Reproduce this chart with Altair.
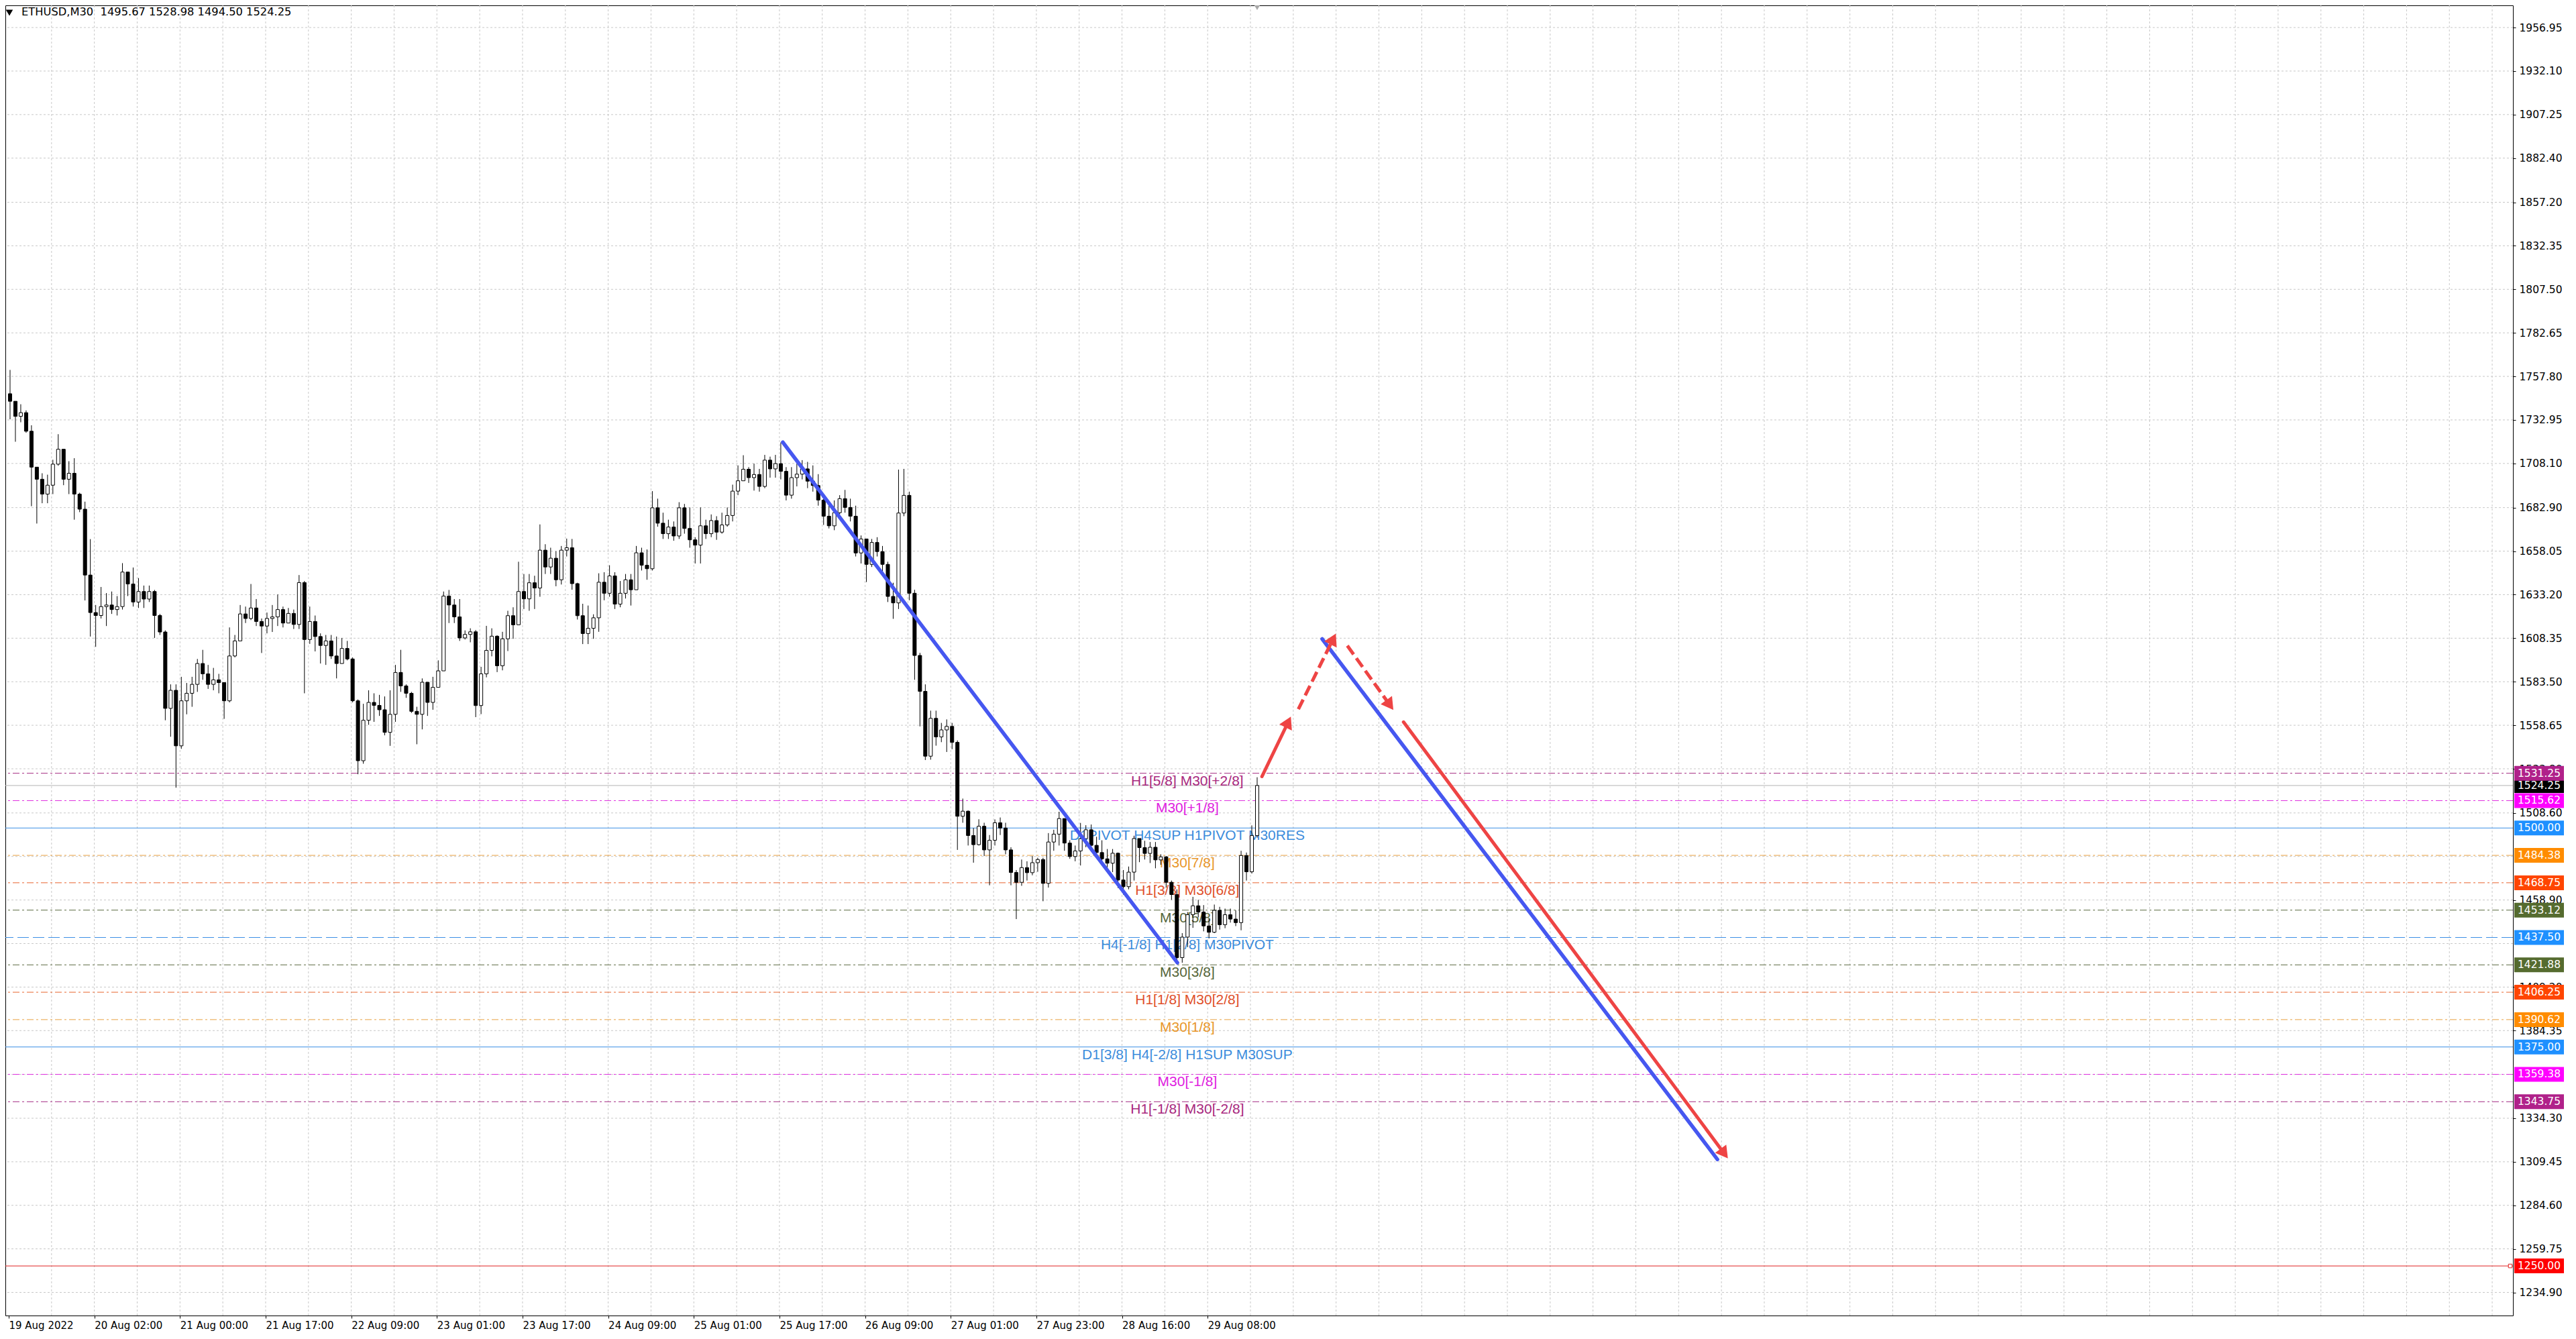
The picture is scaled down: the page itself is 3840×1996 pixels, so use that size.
import math
import altair as alt
import pandas as pd

# ---------------- data ----------------
title_text = "ETHUSD,M30\u00a0 1495.67 1528.98 1494.50 1524.25"

first_open = 1747.9
closes = [
    1743.6, 1735.0, 1737.1, 1726.5, 1706.0, 1699.1, 1690.6, 1695.7, 1707.7, 1716.2,
    1699.1, 1702.5, 1690.6, 1682.0, 1644.4, 1623.0, 1621.3, 1626.4, 1627.3, 1624.7,
    1626.4, 1646.1, 1639.3, 1629.0, 1635.0, 1630.7, 1635.0, 1621.3, 1611.9, 1568.3,
    1578.6, 1546.9, 1572.6, 1576.9, 1582.0, 1593.9, 1588.0, 1582.0, 1584.6, 1583.0,
    1572.6, 1598.2, 1606.8, 1622.2, 1619.6, 1625.6, 1617.9, 1615.3, 1619.6, 1620.5,
    1624.7, 1617.0, 1622.5, 1616.2, 1640.1, 1607.6, 1617.9, 1609.3, 1604.2, 1606.8,
    1598.2, 1593.9, 1602.5, 1596.5, 1572.6, 1538.4, 1561.5, 1571.7, 1570.0, 1567.5,
    1554.6, 1564.9, 1588.8, 1581.1, 1576.9, 1566.6, 1564.9, 1583.2, 1571.7, 1580.3,
    1589.7, 1632.4, 1627.3, 1620.5, 1608.5, 1610.5, 1612.0, 1569.9, 1588.0, 1601.4,
    1609.5, 1592.6, 1608.0, 1621.2, 1616.0, 1635.0, 1630.8, 1640.0, 1637.0, 1658.6,
    1649.0, 1654.0, 1641.7, 1658.6, 1660.0, 1639.5, 1621.2, 1611.0, 1614.0, 1620.0,
    1640.3, 1634.0, 1643.9, 1627.8, 1634.0, 1641.7, 1636.0, 1657.1, 1650.0, 1648.0,
    1682.8, 1674.0, 1668.0, 1671.8, 1666.7, 1682.8, 1671.0, 1664.5, 1661.5, 1672.5,
    1668.0, 1675.5, 1668.9, 1673.0, 1678.4, 1692.3, 1698.2, 1704.8, 1700.0, 1701.8,
    1695.0, 1710.0, 1705.0, 1708.0, 1703.6, 1690.0, 1700.0, 1702.0, 1705.0, 1698.0,
    1695.5, 1687.2, 1678.0, 1672.5, 1680.0, 1688.0, 1683.0, 1678.0, 1657.0, 1665.0,
    1650.5, 1663.0, 1657.8, 1650.5, 1632.2, 1628.5, 1679.8, 1689.9, 1634.0, 1598.5,
    1578.0, 1541.0, 1562.6, 1552.0, 1556.0, 1558.0, 1548.9, 1506.7, 1509.6, 1495.7,
    1490.5, 1501.0, 1487.5, 1493.0, 1503.0, 1500.0, 1487.5, 1474.6, 1469.0, 1477.4,
    1474.5, 1480.2, 1482.0, 1468.4, 1492.0, 1496.5, 1505.4, 1491.4, 1483.7, 1486.9,
    1493.9, 1499.0, 1490.1, 1486.0, 1482.4, 1479.9, 1485.6, 1470.3, 1466.5, 1474.8,
    1494.0, 1488.8, 1485.5, 1489.0, 1481.8, 1483.5, 1469.0, 1462.0, 1426.0, 1437.7,
    1450.5, 1455.6, 1452.0, 1444.1, 1440.5, 1453.0, 1444.8, 1450.5, 1448.0, 1446.0,
    1484.3, 1475.0, 1495.67, 1524.25,
]
highs = [
    1761.5, 1743.6, 1741.9, 1738.4, 1729.9, 1706.0, 1702.5, 1701.7, 1710.2, 1724.8,
    1716.2, 1709.4, 1711.1, 1691.4, 1686.3, 1664.9, 1627.3, 1637.6, 1634.1, 1635.0,
    1632.4, 1651.2, 1646.1, 1648.7, 1642.7, 1638.4, 1638.4, 1635.9, 1622.2, 1612.8,
    1582.0, 1582.0, 1586.3, 1582.8, 1586.3, 1596.5, 1601.7, 1593.1, 1591.4, 1588.0,
    1581.1, 1614.5, 1610.2, 1627.3, 1626.4, 1639.3, 1630.7, 1619.6, 1623.0, 1627.3,
    1633.3, 1626.4, 1625.6, 1624.7, 1644.4, 1641.0, 1626.4, 1621.3, 1611.1, 1610.2,
    1610.2, 1609.3, 1608.5, 1606.8, 1597.4, 1573.4, 1570.9, 1578.6, 1576.9, 1576.0,
    1575.1, 1578.6, 1593.1, 1601.7, 1582.0, 1577.7, 1569.2, 1585.4, 1582.8, 1586.3,
    1595.7, 1635.0, 1635.9, 1630.7, 1630.7, 1612.8, 1614.0, 1613.0, 1592.0, 1615.4,
    1614.0, 1610.0, 1612.0, 1624.0, 1626.0, 1652.0, 1645.0, 1645.0, 1644.0, 1673.3,
    1662.0, 1660.0, 1658.0, 1661.0, 1665.2, 1665.0, 1640.0, 1628.0, 1627.0, 1622.0,
    1645.4, 1646.0, 1650.0, 1646.0, 1641.0, 1645.0, 1645.0, 1661.0, 1660.0, 1659.0,
    1692.3, 1688.0, 1680.0, 1676.0, 1675.0, 1686.0, 1685.0, 1683.0, 1666.0, 1683.0,
    1676.0, 1679.0, 1678.0, 1680.0, 1683.0, 1696.0, 1707.0, 1712.8, 1706.0, 1708.0,
    1705.0, 1713.0, 1712.0, 1713.0, 1720.1, 1706.0, 1706.0, 1708.0, 1710.0, 1709.0,
    1707.0, 1702.0, 1690.0, 1684.0, 1687.0, 1690.0, 1693.0, 1688.0, 1684.0, 1667.0,
    1665.0, 1665.0, 1666.0, 1661.0, 1652.0, 1640.0, 1704.6, 1705.0, 1692.0, 1636.0,
    1600.0, 1582.0, 1567.0, 1567.0, 1560.0, 1562.0, 1560.0, 1550.0, 1516.8, 1510.0,
    1500.0, 1505.0, 1503.0, 1496.0, 1504.9, 1506.0, 1503.0, 1489.0, 1476.0, 1482.0,
    1481.0, 1484.0, 1483.0, 1483.0, 1497.1, 1499.0, 1509.3, 1505.0, 1493.0, 1490.0,
    1502.9, 1501.6, 1502.0, 1495.0, 1493.0, 1488.0, 1488.0, 1486.0, 1476.0, 1478.0,
    1495.6, 1494.0, 1492.7, 1492.0, 1492.0, 1485.0, 1484.0, 1470.0, 1465.0, 1440.0,
    1452.0, 1460.7, 1459.0, 1456.0, 1448.0, 1456.3, 1455.0, 1454.0, 1454.0, 1453.0,
    1487.0, 1486.0, 1501.5, 1528.98,
]
lows = [
    1733.3, 1720.5, 1731.6, 1725.6, 1683.7, 1673.8, 1685.4, 1685.4, 1690.6, 1706.8,
    1695.7, 1690.6, 1676.0, 1680.3, 1629.9, 1609.3, 1603.4, 1619.6, 1615.3, 1622.2,
    1621.3, 1624.7, 1632.4, 1626.4, 1625.6, 1625.6, 1629.0, 1608.5, 1610.2, 1561.5,
    1552.1, 1523.0, 1545.2, 1564.9, 1569.2, 1577.7, 1584.6, 1579.4, 1578.6, 1576.9,
    1562.3, 1571.7, 1597.4, 1606.8, 1617.0, 1618.7, 1615.3, 1599.9, 1611.1, 1611.9,
    1615.3, 1614.5, 1619.6, 1613.6, 1613.6, 1576.9, 1605.1, 1600.8, 1593.9, 1593.1,
    1596.5, 1585.4, 1600.8, 1595.7, 1571.7, 1530.7, 1536.7, 1558.9, 1560.6, 1564.0,
    1552.9, 1546.9, 1560.6, 1577.7, 1574.3, 1565.7, 1547.8, 1556.3, 1564.0, 1567.5,
    1580.3, 1589.7, 1617.0, 1617.0, 1606.8, 1607.6, 1606.0, 1563.3, 1565.0, 1586.0,
    1598.0, 1589.0, 1590.0, 1601.0, 1608.0, 1617.0, 1625.0, 1624.0, 1625.0, 1632.0,
    1645.0, 1645.0, 1638.0, 1639.0, 1655.0, 1636.0, 1619.0, 1605.0, 1605.0, 1608.0,
    1612.0, 1630.0, 1632.0, 1625.0, 1626.0, 1631.0, 1627.0, 1636.0, 1647.0, 1641.7,
    1647.0, 1672.0, 1665.0, 1665.0, 1664.0, 1665.0, 1668.0, 1660.0, 1651.0, 1651.0,
    1665.0, 1666.0, 1664.5, 1668.0, 1672.0, 1675.0, 1690.0, 1699.0, 1697.0, 1692.6,
    1692.0, 1694.0, 1700.0, 1700.0, 1699.0, 1687.0, 1688.0, 1695.0, 1699.0, 1694.0,
    1692.0, 1684.0, 1673.0, 1671.0, 1670.0, 1679.0, 1680.0, 1675.0, 1655.0, 1651.0,
    1640.4, 1649.0, 1655.0, 1645.0, 1629.0, 1619.4, 1625.0, 1678.0, 1630.0, 1584.6,
    1558.0, 1538.8, 1539.0, 1547.0, 1549.0, 1543.4, 1545.0, 1487.5, 1503.0, 1490.0,
    1480.2, 1490.0, 1484.0, 1467.3, 1490.0, 1496.0, 1485.0, 1467.3, 1448.0, 1467.0,
    1470.0, 1473.0, 1475.0, 1458.2, 1466.0, 1487.0, 1490.0, 1487.0, 1482.4, 1481.0,
    1478.6, 1489.0, 1488.0, 1484.3, 1480.0, 1475.4, 1474.8, 1465.8, 1462.0, 1465.0,
    1470.0, 1480.5, 1482.0, 1480.0, 1477.0, 1479.0, 1466.0, 1459.0, 1423.1, 1423.1,
    1432.0, 1443.0, 1449.0, 1441.0, 1437.0, 1440.0, 1442.0, 1442.8, 1446.0, 1444.0,
    1441.6, 1470.0, 1474.0, 1494.50,
]

x_labels = ["19 Aug 2022", "20 Aug 02:00", "21 Aug 00:00", "21 Aug 17:00", "22 Aug 09:00",
            "23 Aug 01:00", "23 Aug 17:00", "24 Aug 09:00", "25 Aug 01:00", "25 Aug 17:00",
            "26 Aug 09:00", "27 Aug 01:00", "27 Aug 23:00", "28 Aug 16:00", "29 Aug 08:00"]
y_ticks = [1956.95, 1932.10, 1907.25, 1882.40, 1857.20, 1832.35, 1807.50, 1782.65, 1757.80,
           1732.95, 1708.10, 1682.90, 1658.05, 1633.20, 1608.35, 1583.50, 1558.65, 1533.80,
           1508.60, 1458.90, 1409.20, 1384.35, 1334.30, 1309.45, 1284.60, 1259.75, 1234.90]
hidden_grid = [1483.75, 1434.05, 1359.30]

level_prices = [1531.25, 1515.62, 1500.00, 1484.38, 1468.75, 1453.12, 1437.50,
                1421.88, 1406.25, 1390.62, 1375.00, 1359.38, 1343.75]
level_labels = ["H1[5/8] M30[+2/8]", "M30[+1/8]", "D1PIVOT H4SUP H1PIVOT M30RES", "M30[7/8]",
                "H1[3/8] M30[6/8]", "M30[5/8]", "H4[-1/8] H1[2/8] M30PIVOT", "M30[3/8]",
                "H1[1/8] M30[2/8]", "M30[1/8]", "D1[3/8] H4[-2/8] H1SUP M30SUP", "M30[-1/8]",
                "H1[-1/8] M30[-2/8]"]
level_kinds = ["violet", "magenta", "blue_solid", "orange", "orangered", "olive", "blue_dash",
               "olive", "orangered", "orange", "blue_solid", "magenta", "violet"]
bid_price = 1524.25
red_level = 1250.00

# trend lines (bar index, price)
blue_start_i = [289.25, 490.8]
blue_start_p = [1720.2, 1607.9]
blue_end_i = [436.7, 638.5]
blue_end_p = [1423.1, 1310.8]

arrow_start_i = [468.3, 481.9, 500.2, 521.2]
arrow_start_p = [1529.4, 1567.8, 1604.1, 1560.5]
arrow_tip_i = [479.1, 495.9, 517.4, 642.4]
arrow_tip_p = [1563.6, 1611.0, 1567.4, 1311.4]
arrow_dashed = [False, True, True, False]

# ---------------- layout / style ----------------
W, H = 3738, 1953
X_DOM = [0, 934.5]
Y_DOM = [1221.7, 1969.6]
PX_X = W / (X_DOM[1] - X_DOM[0])
PX_Y = H / (Y_DOM[1] - Y_DOM[0])
TEXT_I = 440.4

styles = {
    "violet": dict(line="#A42A82", text="#A8287E", box="#B0218A", dash=[10, 4, 3, 4]),
    "magenta": dict(line="#E030E0", text="#E020E0", box="#FF00FF", dash=[10, 4, 3, 4]),
    "blue_solid": dict(line="#3A8EE6", text="#3C8CDC", box="#1E90FF", dash=None),
    "blue_dash": dict(line="#3A8EE6", text="#3C8CDC", box="#1E90FF", dash=[17, 6]),
    "orange": dict(line="#E8A040", text="#E8962A", box="#FF8C00", dash=[10, 4, 3, 4]),
    "orangered": dict(line="#E8642E", text="#E0502A", box="#FF4500", dash=[10, 4, 3, 4]),
    "olive": dict(line="#5A6A40", text="#56663A", box="#556B2F", dash=[10, 4, 3, 4]),
}

xs = alt.Scale(domain=X_DOM, nice=False, zero=False)
ys = alt.Scale(domain=Y_DOM, nice=False, zero=False)
label_expr = "[" + ",".join("'%s'" % s for s in x_labels) + "][round(datum.value / 32)]"
xaxis = alt.Axis(values=[32 * n for n in range(len(x_labels))], labelExpr=label_expr,
                 orient="bottom", labelAlign="left", labelBaseline="top",
                 labelFont="DejaVu Sans", labelFontSize=15, labelColor="black",
                 labelPadding=3, tickSize=4, tickColor="black", domain=False, grid=False,
                 title=None, labelOverlap=False, labelFlush=False, labelBound=False)
yaxis = alt.Axis(values=y_ticks, format=".2f", orient="right", labelFont="DejaVu Sans",
                 labelFontSize=15.5, labelColor="black", labelPadding=5, tickSize=4,
                 tickColor="black", domain=False, grid=False, title=None,
                 labelOverlap=False, labelFlush=False, labelBound=False)


def X(f):
    return alt.X(f, type="quantitative", scale=xs, axis=xaxis)


def Y(f):
    return alt.Y(f, type="quantitative", scale=ys, axis=yaxis)


layers = []

# grid
gh = pd.DataFrame({"p": y_ticks + hidden_grid})
layers.append(alt.Chart(gh).mark_rule(color="#c8c8c8", strokeDash=[3, 3], strokeWidth=1)
              .encode(y=Y("p")))
gv = pd.DataFrame({"i": list(range(16, 935, 16))})
layers.append(alt.Chart(gv).mark_rule(color="#c8c8c8", strokeDash=[3, 3], strokeWidth=1)
              .encode(x=X("i")))

# level lines
for kind, st in styles.items():
    ps = [p for p, k in zip(level_prices, level_kinds) if k == kind]
    if not ps:
        continue
    kw = dict(color=st["line"], strokeWidth=1)
    if st["dash"]:
        kw["strokeDash"] = st["dash"]
    layers.append(alt.Chart(pd.DataFrame({"p": ps})).mark_rule(**kw).encode(y=Y("p")))

layers.append(alt.Chart(pd.DataFrame({"p": [bid_price]}))
              .mark_rule(color="#b4b4b4", strokeWidth=1).encode(y=Y("p")))
layers.append(alt.Chart(pd.DataFrame({"p": [red_level]}))
              .mark_rule(color="#e02020", strokeWidth=1).encode(y=Y("p")))

# level texts
tdf = pd.DataFrame({"p": level_prices, "label": level_labels,
                    "tc": [styles[k]["text"] for k in level_kinds],
                    "ti": [TEXT_I] * len(level_prices)})
layers.append(alt.Chart(tdf).mark_text(font="Liberation Sans", fontSize=21, dy=12,
                                       align="center", baseline="middle")
              .encode(x=X("ti"), y=Y("p"), text="label:N", color=alt.Color("tc:N", scale=None)))

# candles
opens = [first_open] + closes[:-1]
rows = []
for k, (o, h, l, c) in enumerate(zip(opens, highs, lows, closes)):
    rows.append(dict(i=2 * k + 0.5, o=o, c=c, h=max(h, o, c), l=min(l, o, c)))
cdf = pd.DataFrame(rows)
layers.append(alt.Chart(cdf).mark_rule(color="black", strokeWidth=1)
              .encode(x=X("i"), y=Y("l"), y2=alt.Y2("h")))
layers.append(alt.Chart(cdf).mark_bar(width=5, stroke="black", strokeWidth=1)
              .encode(x=X("i"), y=Y("o"), y2=alt.Y2("c"),
                      fill=alt.condition("datum.c >= datum.o", alt.value("white"), alt.value("black"))))

# blue trend lines
bdf = pd.DataFrame({"i0": blue_start_i, "p0": blue_start_p, "i1": blue_end_i, "p1": blue_end_p})
layers.append(alt.Chart(bdf).mark_rule(color="#4657F0", strokeWidth=5.5, strokeCap="round")
              .encode(x=X("i0"), y=Y("p0"), x2=alt.X2("i1"), y2=alt.Y2("p1")))

# red arrows
HEAD_LEN = 18.0
shaft_rows, head_rows = [], []
for i0, p0, i1, p1, dashed in zip(arrow_start_i, arrow_start_p, arrow_tip_i, arrow_tip_p, arrow_dashed):
    dxp = (i1 - i0) * PX_X
    dyp = -(p1 - p0) * PX_Y
    ln = math.hypot(dxp, dyp)
    ux, uy = dxp / ln, dyp / ln
    ang = (math.degrees(math.atan2(ux, -uy)) + 360) % 360
    end_i = i1 - (HEAD_LEN * 0.7 * ux) / PX_X
    end_p = p1 + (HEAD_LEN * 0.7 * uy) / PX_Y
    hc_i = i1 - (HEAD_LEN * 0.5 * ux) / PX_X
    hc_p = p1 + (HEAD_LEN * 0.5 * uy) / PX_Y
    shaft_rows.append(dict(i0=i0, p0=p0, i1=end_i, p1=end_p, dashed=dashed))
    head_rows.append(dict(i=hc_i, p=hc_p, ang=ang))
sdf = pd.DataFrame(shaft_rows)
layers.append(alt.Chart(sdf[~sdf.dashed]).mark_rule(color="#EE4444", strokeWidth=5, strokeCap="round")
              .encode(x=X("i0"), y=Y("p0"), x2=alt.X2("i1"), y2=alt.Y2("p1")))
layers.append(alt.Chart(sdf[sdf.dashed]).mark_rule(color="#EE4444", strokeWidth=5, strokeDash=[16, 7])
              .encode(x=X("i0"), y=Y("p0"), x2=alt.X2("i1"), y2=alt.Y2("p1")))
layers.append(alt.Chart(pd.DataFrame(head_rows))
              .mark_point(shape="triangle-up", filled=True, size=430, color="#EE4444", opacity=1)
              .encode(x=X("i"), y=Y("p"), angle=alt.Angle("ang:Q", scale=None)))

# right-axis price boxes
BOX_X0, BOX_X1, BOX_XC = 3740, 3814, 3777
blk = pd.DataFrame({"p": [bid_price], "t": ["%.2f" % bid_price]})
layers.append(alt.Chart(blk).mark_rect(color="black", yOffset=-11, y2Offset=11)
              .encode(x=alt.value(BOX_X0), x2=alt.value(BOX_X1), y=Y("p"), y2=alt.Y2("p")))
layers.append(alt.Chart(blk).mark_text(font="DejaVu Sans", fontSize=15.5, color="white",
                                       align="center", baseline="middle")
              .encode(x=alt.value(BOX_XC), y=Y("p"), text="t:N"))
box_p = level_prices + [red_level]
box_c = [styles[k]["box"] for k in level_kinds] + ["#FF0000"]
boxes = pd.DataFrame({"p": box_p, "fill": box_c, "t": ["%.2f" % p for p in box_p]})
layers.append(alt.Chart(boxes).mark_rect(yOffset=-11, y2Offset=11)
              .encode(x=alt.value(BOX_X0), x2=alt.value(BOX_X1), y=Y("p"), y2=alt.Y2("p"),
                      color=alt.Color("fill:N", scale=None)))
layers.append(alt.Chart(boxes).mark_text(font="DejaVu Sans", fontSize=15.5, color="white",
                                         align="center", baseline="middle")
              .encode(x=alt.value(BOX_XC), y=Y("p"), text="t:N"))

# small marker at right end of the red line
layers.append(alt.Chart(pd.DataFrame({"p": [red_level]}))
              .mark_point(shape="square", size=30, filled=True, fill="white", stroke="#e02020",
                          strokeWidth=1, opacity=1)
              .encode(x=alt.value(W - 4), y=Y("p")))

# chart-shift marker at top
layers.append(alt.Chart(pd.DataFrame({"a": [0]}))
              .mark_point(shape="triangle-down", size=90, filled=True, color="#a8a8a8", opacity=1)
              .encode(x=alt.value(1866), y=alt.value(3)))

# title
tt = pd.DataFrame({"t": [title_text]})
layers.append(alt.Chart(tt).mark_point(shape="triangle-down", size=110, filled=True,
                                       color="black", opacity=1)
              .encode(x=alt.value(6), y=alt.value(11)))
layers.append(alt.Chart(tt).mark_text(font="DejaVu Sans", fontSize=16.3, color="black",
                                      align="left", baseline="middle")
              .encode(x=alt.value(24), y=alt.value(10), text="t:N"))

chart = (alt.layer(*layers)
         .properties(width=W, height=H,
                     autosize=alt.AutoSizeParams(type="none"),
                     padding={"left": 0, "top": 0, "right": 76, "bottom": 24},
                     background="white")
         .configure_view(stroke="black", strokeWidth=1))

chart.save("out.html", embed_options={"renderer": "svg", "actions": False})
